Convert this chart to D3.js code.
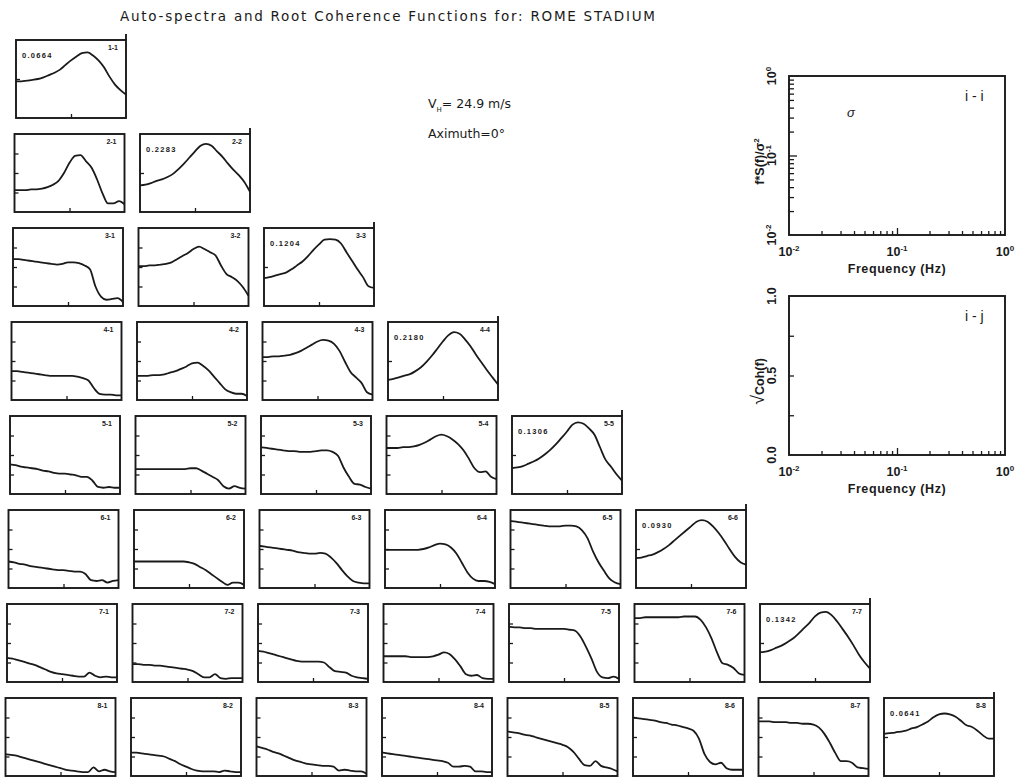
<!DOCTYPE html>
<html lang="en">
<head>
<meta charset="UTF-8">
<title>Auto-spectra and Root Coherence Functions for: ROME STADIUM</title>
<script src="https://cdnjs.cloudflare.com/ajax/libs/d3/7.8.5/d3.min.js"></script>
<style>
  body { margin: 0; background: #fff; }
  svg text { font-family: Arial, "Liberation Sans", sans-serif; fill: #1a1a1a; }
  .frame { fill: none; stroke: #1a1a1a; stroke-width: 1.9; }
  .curve { fill: none; stroke: #1a1a1a; stroke-width: 1.8; stroke-linejoin: round; }
  .tick line { stroke: #1a1a1a; stroke-width: 1.3; }
  .domain { display: none; }
  .pair { font-size: 7px; font-weight: bold; }
  .sig { font-size: 7.5px; font-weight: bold; letter-spacing: 1.3px; }
  .lab { font-size: 12.5px; font-weight: bold; }
  .wide { font-family: "DejaVu Sans", Verdana, sans-serif !important; }
</style>
</head>
<body>
<svg id="chart" width="1023" height="777"></svg>
<script>
// --- Data ---
// frequency grid (Hz), shared by all panels
const freq = [0.010, 0.0126, 0.0158, 0.020, 0.0251, 0.0316, 0.0398, 0.0501, 0.0631, 0.0794,
              0.10, 0.126, 0.158, 0.20, 0.251, 0.316, 0.398, 0.501, 0.631, 0.794, 1.0];

// auto-spectra f*S(f)/sigma^2 (diagonal panels)
const spec11 = [0.087,0.087,0.091,0.095,0.10,0.11,0.126,0.145,0.174,0.23,0.30,0.38,0.46,0.48,0.40,0.30,0.20,0.115,0.072,0.052,0.040];
const spec22 = [0.048,0.050,0.055,0.063,0.069,0.079,0.095,0.126,0.174,0.25,0.36,0.50,0.56,0.50,0.36,0.26,0.174,0.12,0.087,0.058,0.033];
const spec33 = [0.052,0.055,0.060,0.066,0.072,0.087,0.11,0.138,0.19,0.275,0.38,0.50,0.52,0.50,0.40,0.24,0.145,0.087,0.055,0.032,0.029];
const spec44 = [0.033,0.035,0.038,0.042,0.046,0.055,0.069,0.095,0.138,0.21,0.32,0.46,0.55,0.50,0.36,0.24,0.145,0.091,0.058,0.038,0.025];
const spec55 = [0.046,0.048,0.052,0.060,0.069,0.083,0.105,0.138,0.19,0.275,0.40,0.60,0.69,0.63,0.48,0.33,0.158,0.076,0.050,0.032,0.022];
const spec66 = [0.058,0.060,0.066,0.072,0.083,0.10,0.126,0.166,0.22,0.29,0.38,0.50,0.55,0.50,0.38,0.26,0.166,0.10,0.063,0.046,0.040];
const spec77 = [0.058,0.060,0.066,0.076,0.087,0.105,0.13,0.174,0.24,0.33,0.48,0.60,0.63,0.52,0.36,0.23,0.145,0.087,0.050,0.032,0.022];
const spec88 = [0.12,0.126,0.13,0.138,0.145,0.166,0.18,0.21,0.25,0.32,0.38,0.40,0.38,0.33,0.26,0.20,0.18,0.145,0.11,0.091,0.091];
const sigmas = ["0.0664", "0.2283", "0.1204", "0.2180", "0.1306", "0.0930", "0.1342", "0.0641"];

// root coherence (off-diagonal panels)
const coh21 = [.28,.28,.28,.29,.29,.30,.32,.35,.40,.50,.63,.72,.73,.65,.57,.42,.24,.11,.11,.14,.10];
const coh31 = [.60,.60,.59,.58,.57,.56,.55,.54,.53,.54,.56,.56,.55,.52,.47,.25,.12,.08,.09,.10,.05];
const coh32 = [.51,.51,.52,.52,.53,.54,.56,.60,.64,.68,.73,.76,.73,.69,.65,.52,.41,.37,.32,.24,.13];
const coh41 = [.37,.37,.36,.35,.34,.33,.32,.31,.31,.31,.31,.31,.30,.28,.25,.15,.08,.07,.07,.06,.06];
const coh42 = [.31,.31,.31,.32,.32,.33,.35,.37,.40,.43,.47,.48,.44,.38,.30,.22,.14,.10,.08,.08,.05];
const coh43 = [.55,.55,.56,.56,.57,.58,.60,.63,.67,.71,.75,.77,.76,.72,.63,.49,.36,.29,.22,.10,.07];
const coh51 = [.38,.37,.35,.34,.33,.32,.30,.29,.27,.26,.26,.25,.24,.22,.22,.17,.09,.08,.09,.08,.08];
const coh52 = [.32,.32,.32,.32,.32,.32,.32,.32,.32,.32,.33,.33,.30,.26,.22,.18,.10,.07,.10,.08,.07];
const coh53 = [.60,.59,.58,.57,.56,.55,.55,.54,.54,.54,.55,.56,.56,.54,.49,.34,.22,.13,.12,.09,.07];
const coh54 = [.59,.59,.59,.60,.60,.61,.63,.66,.70,.74,.76,.74,.70,.64,.56,.45,.33,.28,.29,.22,.19];
const coh61 = [.34,.33,.31,.30,.28,.27,.26,.25,.24,.23,.23,.22,.21,.21,.18,.10,.09,.10,.07,.09,.10];
const coh62 = [.34,.34,.34,.34,.34,.34,.34,.34,.34,.34,.33,.31,.27,.23,.18,.13,.08,.04,.07,.07,.04];
const coh63 = [.54,.53,.52,.51,.50,.49,.48,.46,.45,.44,.44,.45,.44,.39,.32,.23,.15,.09,.07,.06,.06];
const coh64 = [.49,.49,.49,.49,.49,.49,.49,.50,.52,.55,.57,.56,.52,.44,.32,.20,.12,.09,.09,.08,.05];
const coh65 = [.86,.85,.84,.83,.82,.81,.80,.79,.79,.79,.80,.80,.79,.74,.64,.47,.33,.22,.12,.07,.05];
const coh71 = [.31,.30,.28,.26,.24,.22,.19,.16,.13,.11,.10,.09,.08,.07,.07,.12,.08,.06,.07,.06,.06];
const coh72 = [.23,.23,.22,.22,.21,.21,.20,.19,.18,.17,.16,.14,.10,.06,.06,.10,.05,.04,.05,.05,.05];
const coh73 = [.40,.39,.37,.35,.33,.31,.29,.27,.26,.26,.26,.26,.25,.19,.14,.13,.12,.08,.06,.05,.04];
const coh74 = [.33,.33,.33,.33,.33,.32,.32,.32,.32,.33,.35,.38,.36,.29,.20,.10,.08,.09,.05,.04,.04];
const coh75 = [.71,.70,.70,.69,.69,.68,.68,.68,.68,.68,.68,.67,.66,.58,.45,.30,.13,.06,.05,.07,.04];
const coh76 = [.82,.82,.83,.83,.83,.83,.83,.83,.83,.84,.84,.84,.80,.70,.56,.38,.24,.22,.18,.11,.09];
const coh81 = [.28,.27,.26,.24,.22,.20,.18,.16,.14,.12,.10,.08,.07,.06,.05,.05,.11,.06,.08,.06,.05];
const coh82 = [.30,.30,.29,.28,.27,.26,.25,.22,.19,.15,.12,.09,.07,.06,.06,.06,.05,.07,.06,.05,.05];
const coh83 = [.38,.36,.34,.31,.29,.26,.23,.20,.18,.16,.15,.14,.13,.13,.12,.07,.08,.07,.06,.06,.03];
const coh84 = [.30,.29,.28,.27,.26,.25,.24,.23,.22,.21,.20,.19,.17,.12,.12,.13,.12,.06,.06,.05,.05];
const coh85 = [.57,.56,.55,.53,.52,.50,.48,.46,.44,.42,.40,.37,.31,.22,.14,.13,.19,.13,.11,.09,.06];
const coh86 = [.75,.74,.73,.72,.71,.69,.68,.66,.65,.63,.61,.58,.48,.28,.18,.15,.17,.10,.08,.08,.08];
const coh87 = [.70,.70,.70,.69,.69,.69,.68,.68,.67,.67,.66,.62,.54,.42,.29,.19,.19,.17,.11,.10,.09];

const specs = [spec11, spec22, spec33, spec44, spec55, spec66, spec77, spec88];
const cohs = {
  "2-1": coh21,
  "3-1": coh31, "3-2": coh32,
  "4-1": coh41, "4-2": coh42, "4-3": coh43,
  "5-1": coh51, "5-2": coh52, "5-3": coh53, "5-4": coh54,
  "6-1": coh61, "6-2": coh62, "6-3": coh63, "6-4": coh64, "6-5": coh65,
  "7-1": coh71, "7-2": coh72, "7-3": coh73, "7-4": coh74, "7-5": coh75, "7-6": coh76,
  "8-1": coh81, "8-2": coh82, "8-3": coh83, "8-4": coh84, "8-5": coh85, "8-6": coh86, "8-7": coh87
};

// tick values for the key panels
const logMinor = [0.02,0.03,0.04,0.05,0.06,0.07,0.08,0.09,0.2,0.3,0.4,0.5,0.6,0.7,0.8,0.9];
const cohTicks = [0.25, 0.5, 0.75];

// --- Setup ---
const svg = d3.select("#chart");
const W = 110, H = 78;

const x = d3.scaleLog().domain([0.01, 1]).range([0, W]);
const ySpec = d3.scaleLog().domain([0.01, 1]).range([H, 0]);
const yCoh = d3.scaleLinear().domain([0, 1]).range([H, 0]);

// title
svg.append("text").attr("class", "wide")
  .attr("x", 120).attr("y", 21)
  .attr("textLength", 535).attr("lengthAdjust", "spacing")
  .style("font-size", "13.5px")
  .text("Auto-spectra and Root Coherence Functions for: ROME STADIUM");

// --- small panels ---
for (let i = 1; i <= 8; i++) {
  for (let j = 1; j <= i; j++) {
    const diag = i === j;
    const px = 16 - 1.5 * (i - 1) + 125.5 * (j - 1);
    const py = 40 + 94 * (i - 1);
    const g = svg.append("g").attr("transform", `translate(${px},${py})`);
    const y = diag ? ySpec : yCoh;
    const vals = diag ? specs[i - 1] : cohs[`${i}-${j}`];

    g.append("g").attr("transform", `translate(0,${H})`)
      .call(d3.axisBottom(x).tickValues([0.1]).tickSize(-4).tickFormat(""));
    g.append("g")
      .call(d3.axisLeft(y).tickValues(diag ? [0.1] : cohTicks).tickSize(-4).tickFormat(""));

    g.append("rect").attr("class", "frame").attr("width", W).attr("height", H);
    if (diag) {
      g.append("line").attr("class", "frame")
        .attr("x1", W).attr("x2", W).attr("y1", -6).attr("y2", 0);
    }

    const line = d3.line()
      .x((d, k) => x(freq[k]))
      .y(d => y(d))
      .curve(d3.curveMonotoneX);
    g.append("path").attr("class", "curve").attr("d", line(vals));

    g.append("text").attr("class", "pair")
      .attr("x", W - 8).attr("y", 10).attr("text-anchor", "end")
      .text(`${i}-${j}`);
    if (diag) {
      g.append("text").attr("class", "sig")
        .attr("x", 6).attr("y", 18)
        .text(sigmas[i - 1]);
    }
  }
}

// --- annotation ---
const vh = svg.append("text").attr("class", "wide").attr("x", 428).attr("y", 108).style("font-size", "12.5px");
vh.append("tspan").text("V");
vh.append("tspan").attr("dy", 4).style("font-size", "7px").text("H");
vh.append("tspan").attr("dy", -4).text("= 24.9  m/s");
svg.append("text").attr("class", "wide").attr("x", 428).attr("y", 138)
  .style("font-size", "12.5px").text("Aximuth=0°");

// --- key panels ---
const KW = 216, KH = 159;
const kx = d3.scaleLog().domain([0.01, 1]).range([0, KW]);

function pow10(sel, e) {
  sel.text("10");
  sel.append("tspan").attr("dy", -5).style("font-size", "8px").text(e);
}

function keyPanel(top, ky, leftTicks, leftMajor, yLabels, yTitle, tag, xTitleY) {
  const g = svg.append("g").attr("transform", `translate(789,${top})`);
  g.append("g").attr("transform", `translate(0,${KH})`)
    .call(d3.axisBottom(kx).tickValues(logMinor).tickSize(-4).tickFormat(""));
  g.append("g").attr("transform", `translate(0,${KH})`)
    .call(d3.axisBottom(kx).tickValues([0.1]).tickSize(-7).tickFormat(""));
  g.append("g").call(d3.axisLeft(ky).tickValues(leftTicks).tickSize(-5).tickFormat(""));
  if (leftMajor) g.append("g").call(d3.axisLeft(ky).tickValues(leftMajor).tickSize(-8).tickFormat(""));
  g.append("rect").attr("class", "frame").attr("width", KW).attr("height", KH);

  // y tick labels, rotated
  yLabels.forEach(d => {
    const t = g.append("text").attr("class", "lab")
      .attr("text-anchor", "middle")
      .attr("transform", `translate(-13,${ky(d.v)}) rotate(-90)`);
    if (d.e !== undefined) pow10(t, d.e); else t.text(d.t);
  });
  // x tick labels
  [[0.01, "-2"], [0.1, "-1"], [1, "0"]].forEach(([v, e]) => {
    const t = g.append("text").attr("class", "lab").attr("text-anchor", "middle")
      .attr("x", kx(v)).attr("y", KH + 21);
    pow10(t, e);
  });
  g.append("text").attr("class", "lab")
    .attr("x", KW / 2).attr("y", xTitleY).attr("text-anchor", "middle")
    .style("letter-spacing", "0.6px")
    .text("Frequency (Hz)");
  const yt = g.append("text").attr("class", "lab")
    .attr("text-anchor", "middle")
    .attr("transform", `translate(-25,${KH / 2 + 6}) rotate(-90)`);
  yTitle(yt);
  g.append("text").attr("x", 176).attr("y", 25)
    .style("font-size", "14px").text(tag);
  return g;
}

const k1 = keyPanel(76, d3.scaleLog().domain([0.01, 1]).range([KH, 0]), logMinor, [0.1],
  [{v: 1, e: "0"}, {v: 0.1, e: "-1"}, {v: 0.01, e: "-2"}],
  t => {
    t.text("f*S(f)/σ");
    t.append("tspan").attr("dy", -5).style("font-size", "8px").text("2");
  }, "i - i", KH + 38);
k1.append("text").attr("x", 58).attr("y", 41)
  .style("font-size", "13px").style("font-style", "italic").text("σ");

keyPanel(296, d3.scaleLinear().domain([0, 1]).range([KH, 0]), cohTicks, null,
  [{v: 1, t: "1.0"}, {v: 0.5, t: "0.5"}, {v: 0, t: "0.0"}],
  t => {
    t.append("tspan").style("font-size", "18px").style("font-weight", "normal").text("√");
    t.append("tspan").text("Coh(f)");
  }, "i - j", KH + 38);
</script>
</body>
</html>
